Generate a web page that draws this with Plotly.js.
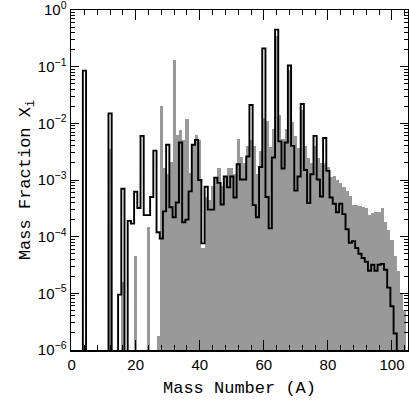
<!DOCTYPE html>
<html>
<head>
<meta charset="utf-8">
<script src="https://cdn.plot.ly/plotly-3.0.1.min.js"></script>
<style>
  html, body { margin: 0; padding: 0; background: #fff; }
  #chart { width: 409px; height: 402px; }
</style>
</head>
<body>
<div id="chart"></div>
<script>
// Mass fractions X_i per mass number A (null = nothing on the plot)
const massNumber = [
  1, 2, 3, 4, 5, 6, 7, 8, 9, 10, 11, 12, 13, 14, 15, 16, 17, 18, 19, 20,
  21, 22, 23, 24, 25, 26, 27, 28, 29, 30, 31, 32, 33, 34, 35, 36, 37, 38, 39, 40,
  41, 42, 43, 44, 45, 46, 47, 48, 49, 50, 51, 52, 53, 54, 55, 56, 57, 58, 59, 60,
  61, 62, 63, 64, 65, 66, 67, 68, 69, 70, 71, 72, 73, 74, 75, 76, 77, 78, 79, 80,
  81, 82, 83, 84, 85, 86, 87, 88, 89, 90, 91, 92, 93, 94, 95, 96, 97, 98, 99, 100,
  101, 102, 103, 104,
];

// gray filled histogram
const grayX = [
  null, null, null, null, null, null, null, null, null, null,
  null, 3.5e-3, null, null, null, 1.6e-5, null, null, null, 4.6e-5,
  null, null, null, 1.5e-4, null, null, 1.8e-6, 2.0e-2, 1.6e-3, 1.26e-3,
  2.1e-3, 1.3e-1, 6.3e-3, 7.6e-3, 5.1e-3, 1.2e-2, 1.35e-3, 4.3e-3, 6.3e-3, 5.0e-3,
  6.3e-5, 5.0e-4, 4.5e-4, 7.9e-4, 1.12e-3, 1.6e-3, 7.9e-4, 1.12e-3, 1.6e-3, 1.6e-3,
  1.26e-3, 5.2e-3, 2.5e-3, 2.0e-3, 4.0e-3, 5.0e-3, 4.0e-3, 1.26e-3, 3.2e-3, 1.26e-2,
  1.1e-2, 3.9e-3, 8.1e-3, 3.5e-1, 1.4e-2, 5.2e-3, 7.9e-3, 8.7e-2, 1.05e-2, 6.0e-3,
  3.7e-3, 1.7e-2, 4.0e-3, 2.4e-3, 2.0e-3, 4.0e-3, 2.4e-3, 2.0e-3, 2.0e-3, 1.7e-3,
  1.12e-3, 1.17e-3, 1.0e-3, 8.9e-4, 7.6e-4, 6.3e-4, 5.2e-4, 3.6e-4, 3.6e-4, 3.5e-4,
  3.4e-4, 3.2e-4, 2.4e-4, 2.6e-4, 2.7e-4, 2.7e-4, 3.2e-4, 1.8e-4, 1.3e-4, 8.9e-5,
  4.5e-5, 2.5e-5, 1.0e-5, 5.0e-6,
];

// black outlined histogram
const blackX = [
  null, null, null, 8.5e-2, null, null, null, null, null, null,
  null, 1.5e-2, null, null, 9.5e-6, 7.0e-4, null, 1.9e-4, 1.7e-4, 6.2e-4,
  3.2e-4, 6.0e-3, 2.4e-4, 2.4e-4, 5.0e-4, 3.3e-3, 1.2e-4, 9.3e-5, 2.8e-4, 4.2e-3,
  3.3e-4, 2.2e-4, 4.0e-4, 4.6e-3, 1.8e-4, 2.0e-4, 6.3e-4, 4.2e-3, 5.1e-3, 1.0e-3,
  7.6e-5, 7.6e-4, 3.0e-4, 3.0e-4, 1.1e-3, 8.9e-4, 3.7e-4, 1.15e-3, 7.4e-4, 1.15e-3,
  4.9e-4, 1.9e-3, 1.02e-3, 1.02e-3, 2.6e-3, 2.1e-2, 3.6e-4, 2.2e-4, 1.7e-3, 2.1e-1,
  5.0e-4, 1.4e-4, 2.5e-3, 4.5e-1, 4.8e-3, 1.6e-3, 4.6e-3, 1.05e-1, 4.0e-3, 6.5e-4,
  1.15e-3, 2.2e-2, 1.5e-3, 3.9e-4, 1.26e-3, 6.0e-3, 1.02e-3, 5.1e-4, 5.5e-3, 1.45e-3,
  4.9e-4, 3.8e-4, 2.7e-4, 3.8e-4, 2.5e-4, 1.35e-4, 7.8e-5, 8.3e-5, 6.3e-5, 5.0e-5,
  4.2e-5, 3.6e-5, 2.5e-5, 3.2e-5, 2.5e-5, 3.2e-5, 3.3e-5, 2.6e-5, 1.26e-5, 5.9e-6,
  1.95e-6, null, null, null,
];

// y tick labels
const yTickVals = [1e-6, 1e-5, 1e-4, 1e-3, 1e-2, 1e-1, 1];
const yTickText = ['10<sup>−6</sup>', '10<sup>−5</sup>', '10<sup>−4</sup>', '10<sup>−3</sup>',
  '10<sup>−2</sup>', '10<sup>−1</sup>', '10<sup>0</sup>'];

const FLOOR = 1e-9; // empty bins drop below the axis so the outline closes
const FONT_TICK = { family: 'Liberation Sans, Arial, sans-serif', size: 15, color: '#000' };
const FONT_TITLE = { family: 'Liberation Mono, monospace', size: 17, color: '#000' };

const traces = [
  {
    type: 'bar', x: massNumber, y: grayX, width: 1,
    marker: { color: '#999999', line: { width: 0 } },
    hoverinfo: 'x+y',
  },
  {
    type: 'scatter', mode: 'lines', x: massNumber,
    y: blackX.map(v => (v == null ? FLOOR : v)),
    line: { color: '#000', width: 1.9, shape: 'hvh' },
    hoverinfo: 'x+y',
  },
];

const axisCommon = {
  showline: true, linecolor: '#000', linewidth: 1.5, mirror: 'ticks',
  ticks: 'inside', tickcolor: '#000', tickwidth: 1, ticklabeloverflow: 'allow',
  showgrid: false, zeroline: false, tickfont: FONT_TICK,
};

const layout = {
  width: 409, height: 402,
  margin: { l: 71, r: 1, t: 10, b: 52 },
  paper_bgcolor: '#fff', plot_bgcolor: '#fff',
  showlegend: false, bargap: 0,
  xaxis: {
    ...axisCommon, range: [-0.2, 105], tick0: 0, dtick: 20, ticklen: 10,
    minor: { dtick: 4, ticks: 'inside', ticklen: 5, tickcolor: '#000', showgrid: false },
    title: { text: 'Mass Number (A)', font: FONT_TITLE, standoff: 9 },
  },
  yaxis: {
    ...axisCommon, type: 'log', range: [-6, 0], tickmode: 'array',
    tickvals: yTickVals, ticktext: yTickText, ticklen: 8,
    minor: { dtick: 'D1', ticks: 'inside', ticklen: 4, tickcolor: '#000', showgrid: false },
    title: { text: 'Mass Fraction X<sub>i</sub>', font: FONT_TITLE, standoff: 0 },
  },
};

Plotly.newPlot('chart', traces, layout, { displayModeBar: false, staticPlot: true });
</script>
</body>
</html>
